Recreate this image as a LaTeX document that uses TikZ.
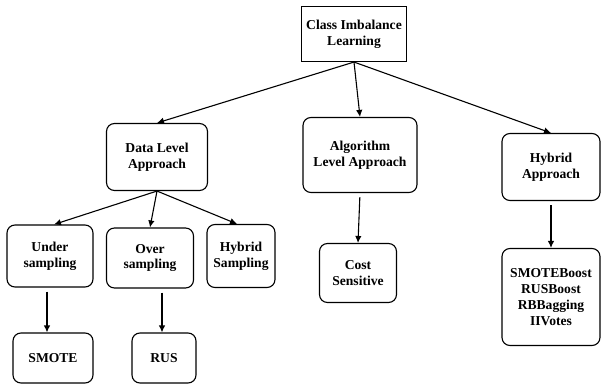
\documentclass[tikz,border=0pt]{standalone}
\usepackage{fontspec}
\setmainfont{Liberation Serif}
\usetikzlibrary{positioning,arrows.meta}
\begin{document}
\begin{tikzpicture}[x=1pt,y=-1pt,font=\fontsize{13.6}{15.8}\selectfont\bfseries]
\tikzstyle{square node}=[draw,line width=1.1pt,align=center,inner sep=2pt]
\tikzstyle{round node}=[square node,rounded corners=8pt]
\tikzstyle{link}=[-{Latex[length=7pt,width=6.5pt]},line width=1.1pt]
\tikzstyle{down link}=[link,shorten <=4pt]
\useasboundingbox (0,0) rectangle (602,385);
% top
\node(root)[square node,minimum width=105pt,minimum height=55pt] at (354,34){Class Imbalance\\Learning};
% approaches
\node(data)[round node,minimum width=101pt,minimum height=67pt] at (157,157){Data Level\\Approach};
\node(algo)[round node,minimum width=114pt,minimum height=75pt] at (360,155){Algorithm\\Level Approach};
\node(hyb)[round node,minimum width=98pt,minimum height=67pt] at (551,167){Hybrid\\Approach};
% sampling
\node(under)[round node,minimum width=86pt,minimum height=62pt] at (50,256){Under\\sampling};
\node(over)[round node,minimum width=87pt,minimum height=60pt] at (150,258){Over\\sampling};
\node(hsamp)[round node,minimum width=68pt,minimum height=63pt] at (241,256){Hybrid\\Sampling};
\node(cost)[round node,minimum width=77pt,minimum height=59pt] at (358,273){Cost\\Sensitive};
\node(list)[round node,minimum width=98pt,minimum height=97pt] at (551,297){SMOTEBoost\\RUSBoost\\RBBagging\\IIVotes};
% methods
\node(smote)[round node,minimum width=80pt,minimum height=50pt] at (53,358){SMOTE};
\node(rus)[round node,minimum width=64pt,minimum height=50pt] at (164,358){RUS};
% links
\draw[link] (root.south) -- (data.north);
\draw[link] (root.south) -- (algo.north);
\draw[link] (root.south) -- (hyb.north);
\draw[link] (data.south) -- ([xshift=4pt]under.north);
\draw[link] (data.south) -- (over.north);
\draw[link] (data.south) -- ([xshift=-4pt]hsamp.north);
\draw[down link] (algo.south) -- (cost.north);
\draw[down link] (hyb.south) -- (list.north);
\draw[down link] ([xshift=-3pt]under.south) -- ([xshift=-6pt]smote.north);
\draw[down link] ([xshift=12pt]over.south) -- ([xshift=-2pt]rus.north);
\end{tikzpicture}
\end{document}
